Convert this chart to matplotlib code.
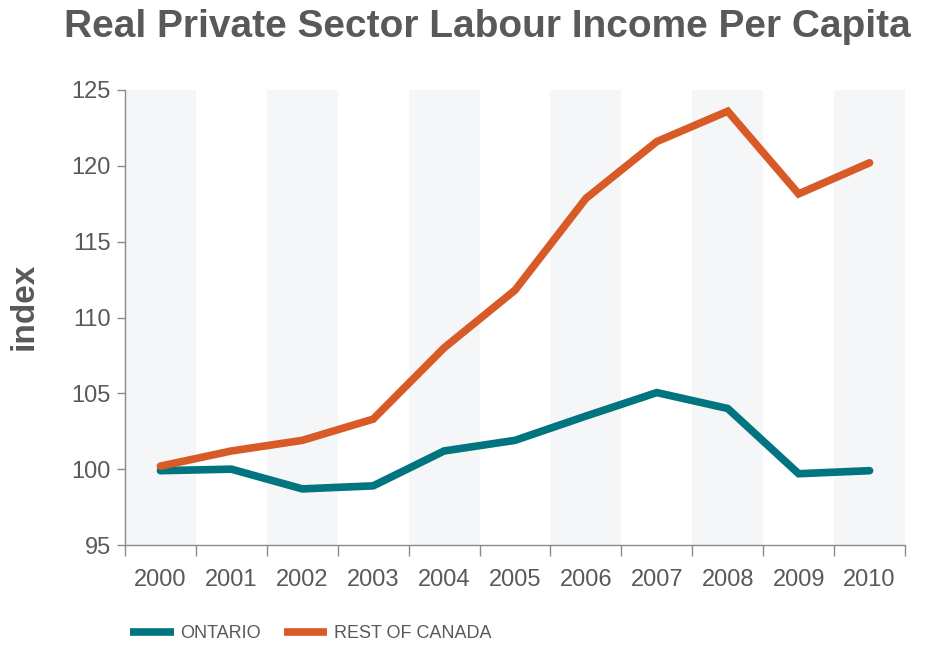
import matplotlib
matplotlib.use("Agg")
import matplotlib.pyplot as plt
from matplotlib.lines import Line2D
import numpy as np

years = ["2000", "2001", "2002", "2003", "2004", "2005", "2006", "2007", "2008", "2009", "2010"]
ontario = [99.9, 100.0, 98.7, 98.9, 101.2, 101.9, 103.5, 105.05, 104.0, 99.7, 99.9]
rest_of_canada = [100.2, 101.2, 101.9, 103.3, 108.0, 111.8, 117.85, 121.6, 123.6, 118.15, 120.2]
yticks = [95, 100, 105, 110, 115, 120, 125]

TEAL = "#00747f"
ORANGE = "#d85a27"
TXT = "#58595b"
SPINE = "#8a8a8a"
BAND = "#f5f6f8"

plt.rcParams['font.family'] = ['Liberation Sans', 'DejaVu Sans']

fig = plt.figure(figsize=(9.27, 6.48), dpi=100)
ax = fig.add_axes([125/927, 1-545/648, (905-125)/927, (545-90)/648])

x = np.arange(len(years))
for i in range(0, len(years), 2):
    ax.axvspan(i-0.5, i+0.5, color=BAND, lw=0, zorder=0)

ax.plot(x, ontario, color=TEAL, lw=5.5, solid_capstyle='round', solid_joinstyle='miter', zorder=3)
ax.plot(x, rest_of_canada, color=ORANGE, lw=5.5, solid_capstyle='round', solid_joinstyle='miter', zorder=3)

ax.set_xlim(-0.5, len(years)-0.5)
ax.set_ylim(95, 125)
ax.set_yticks(yticks)
ax.set_yticklabels([str(v) for v in yticks], fontsize=17, color=TXT)
ax.set_xticks(x)
ax.set_xticklabels(years, fontsize=17, color=TXT)
ax.set_xticks(np.arange(-0.5, len(years)), minor=True)
ax.tick_params(axis='x', which='major', length=0, pad=17)
ax.tick_params(axis='x', which='minor', length=8, color=SPINE, width=1)
ax.tick_params(axis='y', which='major', length=6, color=SPINE, width=1, pad=4)

for s in ['top', 'right']:
    ax.spines[s].set_visible(False)
for s in ['left', 'bottom']:
    ax.spines[s].set_color(SPINE)
    ax.spines[s].set_linewidth(1)

ax.set_ylabel("index", fontsize=24, fontweight='bold', color=TXT)
ax.yaxis.set_label_coords(-(125-40)/780, (545-306)/455)

fig.text(487/927, 1-27/648, "Real Private Sector Labour Income Per Capita",
         ha='center', va='center', fontsize=28, fontweight='bold', color=TXT)

handles = [Line2D([0], [0], color=TEAL, lw=5.5, solid_capstyle='butt'),
           Line2D([0], [0], color=ORANGE, lw=5.5, solid_capstyle='butt')]
leg = fig.legend(handles, ["ONTARIO", "REST OF CANADA"], loc='center left',
                 bbox_to_anchor=(114/927, 1-634/648), ncol=2, frameon=False,
                 fontsize=13, handlelength=2.4, handletextpad=0.35, columnspacing=1.3)
for t in leg.get_texts():
    t.set_color(TXT)

fig.savefig("out.png", dpi=100)
